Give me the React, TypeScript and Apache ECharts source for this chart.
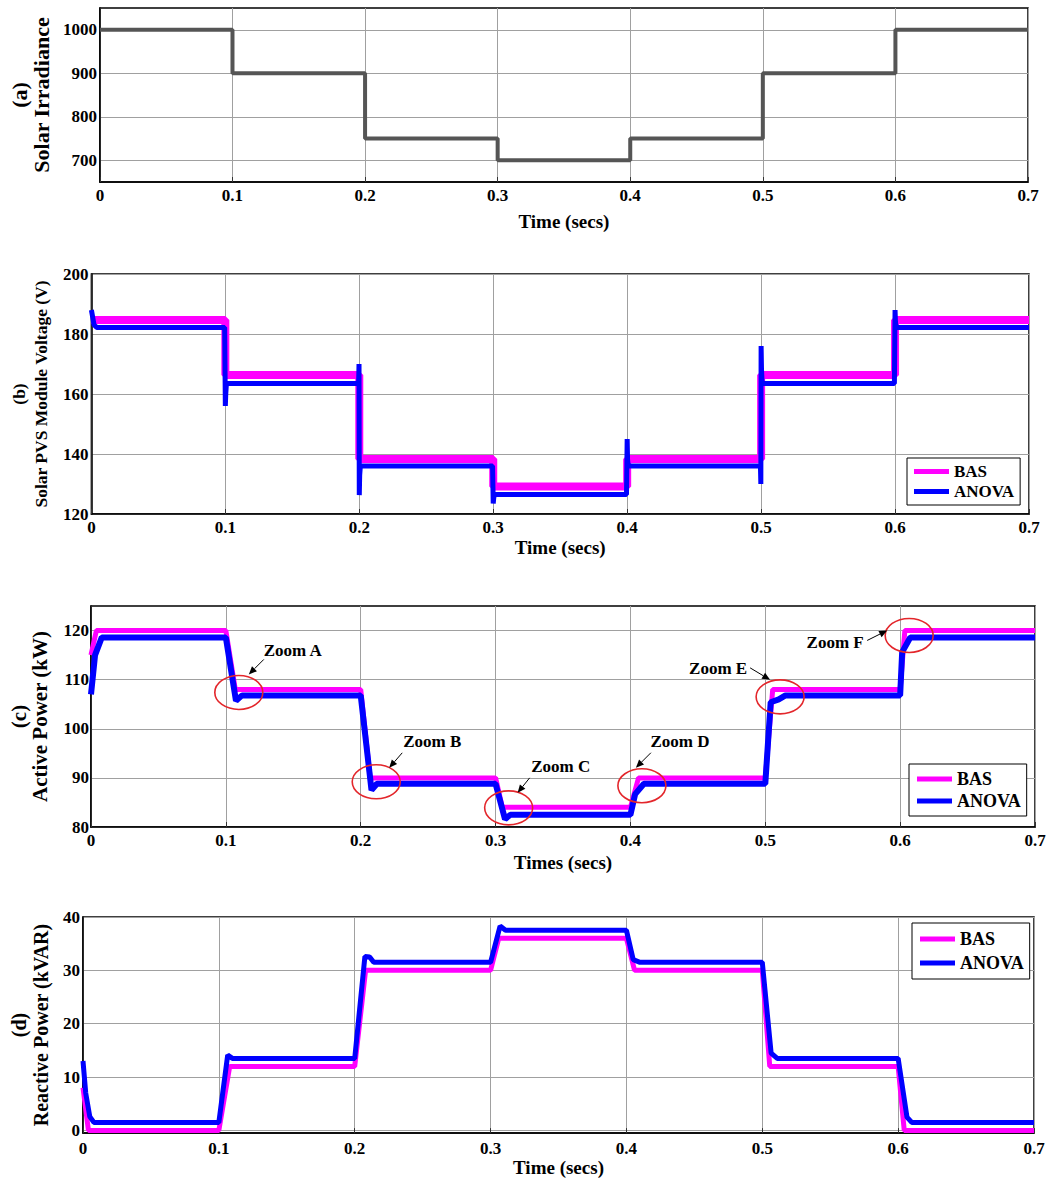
import React, { useEffect, useRef } from 'react';
import * as echarts from 'echarts';

// ---------------- data ----------------
// (a) Solar irradiance step profile
const irrTimes = [0, 0.1, 0.2, 0.3, 0.4, 0.5, 0.6, 0.7];
const irrValues = [1000, 900, 750, 700, 750, 900, 1000, 1000];

// (b) Solar PVS module voltage
const voltBasTimes = [0, 0.1, 0.2, 0.3, 0.4, 0.5, 0.6, 0.7];
const voltBasValues = [184.7, 166.3, 138.3, 129.2, 138.3, 166.3, 184.7, 184.7];
const voltAnovaTimes = [0, 0.002, 0.004, 0.0995, 0.1, 0.1003, 0.1008, 0.1995, 0.1998, 0.2, 0.2003, 0.2008, 0.2995, 0.3, 0.3003, 0.3008, 0.3995, 0.4, 0.4003, 0.4008, 0.4995, 0.4998, 0.5, 0.5003, 0.5008, 0.5995, 0.6, 0.6003, 0.6008, 0.7];
const voltAnovaValues = [188, 183, 182.2, 182.2, 156, 160, 163.5, 163.5, 170, 126.3, 133, 136, 136, 123.5, 125, 126.5, 126.5, 145, 138, 136, 136, 130, 176, 168, 163.5, 163.5, 188, 184, 182.2, 182.2];

// (c) Active power (kW)
const pBasTimes = [0, 0.004, 0.1, 0.107, 0.2, 0.207, 0.3, 0.305, 0.4, 0.406, 0.5, 0.5055, 0.6, 0.6035, 0.7];
const pBasValues = [115, 120, 120, 108, 108, 90, 90, 84, 84, 90, 90, 108, 108, 120, 120];
const pAnovaTimes = [0, 0.003, 0.008, 0.1, 0.1075, 0.112, 0.2, 0.208, 0.212, 0.3, 0.307, 0.311, 0.4, 0.4035, 0.41, 0.5, 0.504, 0.51, 0.515, 0.6, 0.6015, 0.6075, 0.7];
const pAnovaValues = [107, 115, 118.6, 118.6, 105.7, 106.8, 106.8, 87.5, 88.8, 88.8, 81.6, 82.5, 82.5, 86.7, 88.8, 88.8, 105.4, 106, 106.8, 106.8, 115.6, 118.6, 118.6];

// (d) Reactive power (kVAR)
const qBasTimes = [0, 0.004, 0.1, 0.108, 0.2, 0.208, 0.3, 0.306, 0.4, 0.406, 0.5, 0.5055, 0.6, 0.6045, 0.7];
const qBasValues = [8, 0, 0, 12, 12, 30, 30, 36, 36, 30, 30, 12, 12, 0, 0];
const qAnovaTimes = [0, 0.002, 0.005, 0.008, 0.1, 0.1065, 0.11, 0.2, 0.2075, 0.211, 0.214, 0.3, 0.307, 0.311, 0.4, 0.405, 0.41, 0.5, 0.5065, 0.511, 0.6, 0.6065, 0.61, 0.7];
const qAnovaValues = [13, 7, 2.6, 1.5, 1.5, 14.1, 13.5, 13.5, 32.6, 32.5, 31.5, 31.5, 38.3, 37.5, 37.5, 32, 31.5, 31.5, 14.5, 13.5, 13.5, 2.5, 1.5, 1.5];

// Zoom annotations on panel (c): label and the data point it circles
const zoomLabels = ['Zoom A', 'Zoom B', 'Zoom C', 'Zoom D', 'Zoom E', 'Zoom F'];
const zoomTimes = [0.1096, 0.2115, 0.3097, 0.4085, 0.511, 0.6067];
const zoomValues = [107.4, 89.2, 83.9, 88.4, 106.5, 119];

// ---------------- styling / layout ----------------
const FONT = '"Liberation Serif", "Times New Roman", Times, serif';
const GRID_COLOR = '#a0a0a0';
const MAGENTA = '#ff00ff';
const BLUE = '#0000ff';

// pixel offsets of label / arrow tail / arrow tip relative to ellipse center
const zoomLayout = [
  { text: [54, -42], tail: [25, -33], tip: [10, -18] },
  { text: [56, -40], tail: [26, -29], tip: [13, -14] },
  { text: [52, -41], tail: [21, -30], tip: [9, -15] },
  { text: [38, -44], tail: [9, -33], tip: [-6, -18] },
  { text: [-62, -28], tail: [-30, -29], tip: [-10, -17] },
  { text: [-74, 7], tail: [-42, 5], tip: [-22, -5] },
];

const pairs = (ts: number[], vs: number[]) => ts.map((t, i) => [t, vs[i]]);

const grids = [
  { left: 95, top: 8, width: 933, height: 174 },
  { left: 91, top: 274, width: 938, height: 240 },
  { left: 84, top: 606, width: 951, height: 221 },
  { left: 80, top: 917, width: 954, height: 220 },
];

const xNames = ['Time (secs)', 'Time (secs)', 'Times (secs)', 'Time (secs)'];
const xNameGaps = [30, 24, 26, 20];

function xAxis(i: number) {
  return {
    type: 'value',
    gridIndex: i,
    min: 0,
    max: 0.7,
    interval: 0.1,
    name: xNames[i],
    nameLocation: 'middle',
    nameGap: xNameGaps[i],
    nameTextStyle: { fontFamily: FONT, fontWeight: 'bold', fontSize: 19, color: '#000' },
    axisLine: { show: true, onZero: false, lineStyle: { color: '#000', width: 1.5 } },
    axisTick: { show: true, inside: true, length: 5, lineStyle: { color: '#333' } },
    axisLabel: {
      margin: i === 3 ? 7 : 5,
      fontFamily: FONT,
      fontWeight: 'bold',
      fontSize: 17,
      color: '#000',
      formatter: (v: number) => String(Math.round(v * 10) / 10),
    },
    splitLine: { show: true, lineStyle: { color: GRID_COLOR, width: 1 } },
  };
}

const yNameStyle = (size: number, lh: number) => ({
  fontFamily: FONT,
  fontWeight: 'bold',
  fontSize: size,
  lineHeight: lh,
  color: '#000',
  align: 'center',
});

const yLabelBase = { fontFamily: FONT, fontWeight: 'bold', fontSize: 17, color: '#000', margin: 3 };
const yAxisLine = { show: true, onZero: false, lineStyle: { color: '#000', width: 1.5 } };

// colours for split lines on axes with fine hidden tick steps
const dColors: string[] = [];
for (let k = 0; k < 20; k++) dColors.push(k === 1 ? GRID_COLOR : 'rgba(0,0,0,0)');

const yAxes = [
  {
    type: 'value', gridIndex: 0, min: 650, max: 1050, interval: 50,
    name: '(a)\nSolar Irradiance', nameLocation: 'middle', nameRotate: 90, nameGap: 45,
    nameTextStyle: yNameStyle(22, 22),
    axisLine: yAxisLine, axisTick: { show: false },
    axisLabel: { ...yLabelBase, formatter: (v: number) => (Math.round(v) % 100 === 0 ? String(Math.round(v)) : '') },
    splitLine: { show: true, lineStyle: { color: ['rgba(0,0,0,0)', GRID_COLOR], width: 1 } },
  },
  {
    type: 'value', gridIndex: 1, min: 120, max: 200, interval: 20,
    name: '(b)\nSolar PVS Module Voltage (V)', nameLocation: 'middle', nameRotate: 90, nameGap: 35,
    nameTextStyle: yNameStyle(17.5, 22),
    axisLine: yAxisLine, axisTick: { show: false },
    axisLabel: { ...yLabelBase },
    splitLine: { show: true, lineStyle: { color: GRID_COLOR, width: 1 } },
  },
  {
    type: 'value', gridIndex: 2, min: 80, max: 125, interval: 5,
    name: '(c)\nActive Power (kW)', nameLocation: 'middle', nameRotate: 90, nameGap: 41,
    nameTextStyle: yNameStyle(21, 21),
    axisLine: yAxisLine, axisTick: { show: false },
    axisLabel: { ...yLabelBase, margin: 2, formatter: (v: number) => (Math.round(v) % 10 === 0 ? String(Math.round(v)) : '') },
    splitLine: { show: true, lineStyle: { color: [GRID_COLOR, 'rgba(0,0,0,0)'], width: 1 } },
  },
  {
    type: 'value', gridIndex: 3, min: -0.5, max: 40, interval: 0.5,
    name: '(d)\nReactive Power (kVAR)', nameLocation: 'middle', nameRotate: 90, nameGap: 31,
    nameTextStyle: yNameStyle(20, 22),
    axisLine: yAxisLine, axisTick: { show: false },
    axisLabel: {
      ...yLabelBase,
      formatter: (v: number) => {
        const r = Math.round(v);
        return Math.abs(v - r) < 1e-6 && r % 10 === 0 ? String(r) : '';
      },
    },
    splitLine: { show: true, lineStyle: { color: dColors, width: 1 } },
  },
];

function lineSeries(name: string, gi: number, data: number[][], color: string, width: number, extra: any = {}) {
  return {
    type: 'line',
    name,
    xAxisIndex: gi,
    yAxisIndex: gi,
    data,
    showSymbol: false,
    symbol: 'none',
    lineStyle: { color, width },
    itemStyle: { color },
    ...extra,
  };
}

const legendText = (size: number) => ({ fontFamily: FONT, fontWeight: 'bold', fontSize: size, color: '#000' });
function legend(left: number, top: number, size: number, gap: number, padding: number[]) {
  return {
    data: ['BAS', 'ANOVA'],
    orient: 'vertical',
    left,
    top,
    icon: 'rect',
    itemWidth: 35,
    itemHeight: 5,
    itemGap: gap,
    padding,
    borderColor: '#000',
    borderWidth: 1,
    backgroundColor: '#fff',
    selectedMode: false,
    textStyle: legendText(size),
  };
}

const option: any = {
  animation: false,
  backgroundColor: '#fff',
  grid: grids.map((g) => ({ ...g, show: true, borderColor: '#000', borderWidth: 1.5, backgroundColor: 'transparent', containLabel: false })),
  xAxis: [0, 1, 2, 3].map(xAxis),
  yAxis: yAxes,
  legend: [
    legend(907, 458, 17, 3, [5, 6, 5, 7]),
    legend(909, 764, 18, 4, [6, 6, 6, 8]),
    legend(912, 923, 18, 6, [7, 6, 7, 8]),
  ],
  series: [
    lineSeries('Irradiance', 0, pairs(irrTimes, irrValues), '#555555', 4, { step: 'end' }),
    lineSeries('BAS', 1, pairs(voltBasTimes, voltBasValues), MAGENTA, 8, { step: 'end' }),
    lineSeries('ANOVA', 1, pairs(voltAnovaTimes, voltAnovaValues), BLUE, 5),
    lineSeries('BAS', 2, pairs(pBasTimes, pBasValues), MAGENTA, 5),
    lineSeries('ANOVA', 2, pairs(pAnovaTimes, pAnovaValues), BLUE, 6),
    lineSeries('BAS', 3, pairs(qBasTimes, qBasValues), MAGENTA, 5),
    lineSeries('ANOVA', 3, pairs(qAnovaTimes, qAnovaValues), BLUE, 5),
  ],
};

export default function App() {
  const ref = useRef<HTMLDivElement>(null);
  useEffect(() => {
    document.body.style.margin = '0';
    const chart = echarts.init(ref.current!, null, { renderer: 'svg' });
    chart.setOption(option);

    const graphics: any[] = [];
    zoomLabels.forEach((label, i) => {
      const c = chart.convertToPixel({ xAxisIndex: 2, yAxisIndex: 2 } as any, [zoomTimes[i], zoomValues[i]]) as number[];
      const L = zoomLayout[i];
      const cx = c[0];
      const cy = c[1];
      graphics.push({
        type: 'ellipse',
        shape: { cx, cy, rx: 24, ry: 17 },
        style: { fill: 'none', stroke: '#e3262b', lineWidth: 1.6 },
        z: 100,
      });
      const tx = cx + L.tail[0], ty = cy + L.tail[1];
      const px = cx + L.tip[0], py = cy + L.tip[1];
      const dx = px - tx, dy = py - ty;
      const len = Math.sqrt(dx * dx + dy * dy) || 1;
      const ux = dx / len, uy = dy / len;
      const hl = 8, hw = 3.5;
      const bx = px - ux * hl, by = py - uy * hl;
      graphics.push({
        type: 'line',
        shape: { x1: tx, y1: ty, x2: bx, y2: by },
        style: { stroke: '#000', lineWidth: 1 },
        z: 100,
      });
      graphics.push({
        type: 'polygon',
        shape: { points: [[px, py], [bx - uy * hw, by + ux * hw], [bx + uy * hw, by - ux * hw]] },
        style: { fill: '#000' },
        z: 100,
      });
      graphics.push({
        type: 'text',
        x: cx + L.text[0],
        y: cy + L.text[1],
        style: {
          text: label,
          fill: '#000',
          font: 'bold 17px "Liberation Serif", "Times New Roman", serif',
          align: 'center',
          verticalAlign: 'middle',
        },
        z: 100,
      });
    });
    chart.setOption({ graphic: graphics });

    return () => chart.dispose();
  }, []);
  return <div ref={ref} style={{ width: 1049, height: 1178 }} />;
}
